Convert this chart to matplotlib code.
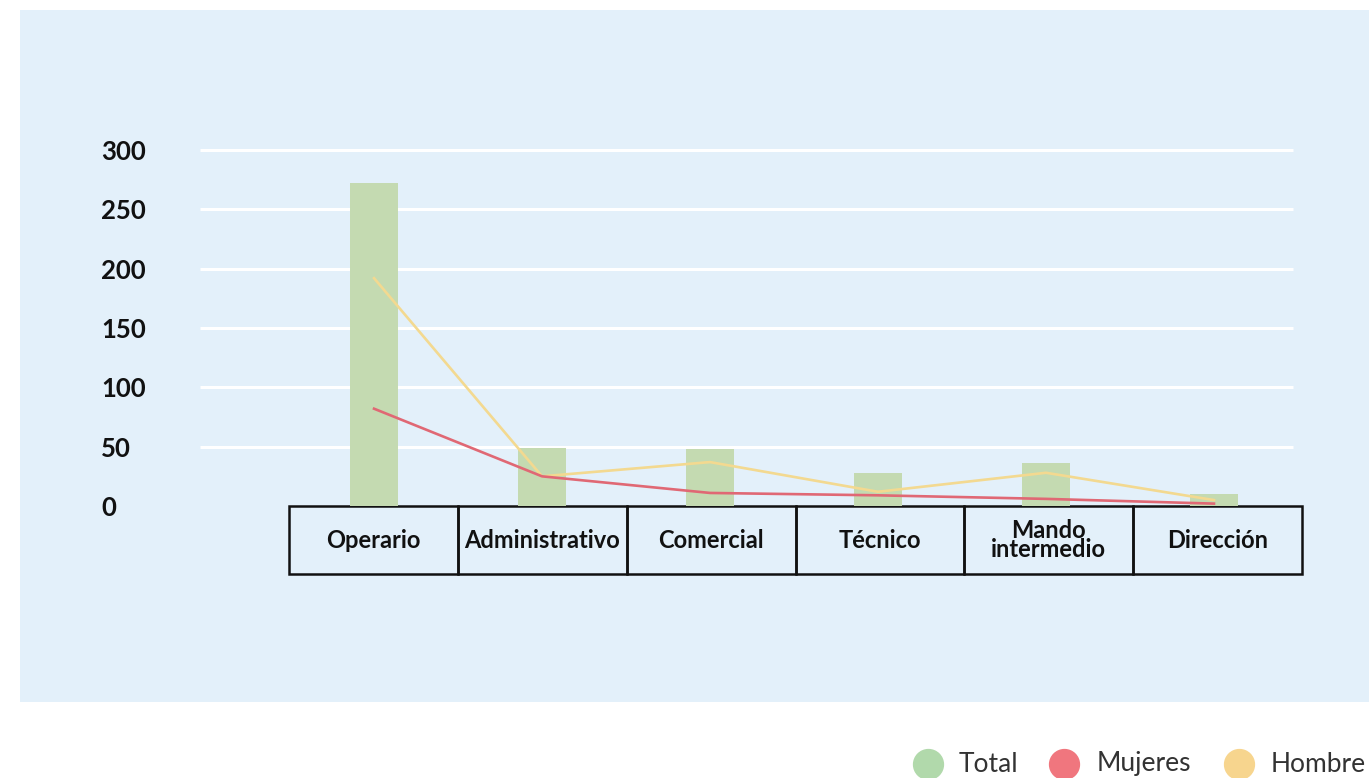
import matplotlib.pyplot as plt
from matplotlib.lines import Line2D
from matplotlib.patches import Rectangle
import numpy as np

# Datos
categorias = ["Operario", "Administrativo", "Comercial", "Técnico", "Mando\nintermedio", "Dirección"]
total = [272, 49, 48, 28, 36, 10]
mujeres = [82, 25, 11, 9, 6, 2]
hombres = [192, 25, 37, 12, 28, 5]
y_ticks = [0, 50, 100, 150, 200, 250, 300]

plt.rcParams['font.family'] = ['Lato', 'DejaVu Sans']

W, H = 1369, 778
fig = plt.figure(figsize=(W / 100, H / 100), dpi=100)

# Fondo azul claro
fig.add_artist(Rectangle((20 / W, 1 - 702 / H), 1349 / W, 692 / H,
                         transform=fig.transFigure, facecolor="#E3F0FA",
                         edgecolor="none", zorder=0))

ax = fig.add_axes([200 / W, 1 - 506 / H, 1102 / W, 356 / H])
ax.patch.set_alpha(0)
for s in ax.spines.values():
    s.set_visible(False)

x = np.arange(len(categorias))
ax.set_xlim(-1.036, 5.524)
ax.set_ylim(0, 300)

# Lineas de cuadricula
ax.hlines(y_ticks[1:], -1.036, 5.47, colors="white", linewidth=2.2, zorder=1, clip_on=False)

ax.bar(x, total, width=0.29, color="#C4DAB1", zorder=2)
ax.plot(x, hombres, color="#F3D990", linewidth=1.9, zorder=3)
ax.plot(x, mujeres, color="#E06874", linewidth=1.9, zorder=4)

ax.set_xticks([])
ax.set_yticks(y_ticks)
ax.set_yticklabels([str(v) for v in y_ticks], fontsize=18.5, fontweight="bold", color="#111111")
for lbl in ax.get_yticklabels():
    lbl.set_horizontalalignment("left")
ax.tick_params(axis="y", length=0, pad=71)

# Tabla de categorias
tabla = ax.table(cellText=[categorias], cellLoc="center",
                 bbox=[(289 - 200) / 1102, -68 / 356, 1013 / 1102, 68 / 356])
tabla.auto_set_font_size(False)
for (r, c), cell in tabla.get_celld().items():
    cell.set_facecolor("none")
    cell.set_edgecolor("#111111")
    cell.set_linewidth(1.8)
    t = cell.get_text()
    t.set_fontsize(17)
    t.set_fontweight("bold")
    t.set_color("#111111")
    t.set_linespacing(0.8)

# Leyenda
leyenda = [("Total", "#B1D9AB", 928, 959), ("Mujeres", "#F0767E", 1064, 1097),
           ("Hombre", "#F7D58E", 1239, 1271)]
for nombre, color, cx, tx in leyenda:
    fig.add_artist(Line2D([cx / W], [1 - 764 / H], marker="o", markersize=21.5,
                          color=color, linestyle="none", transform=fig.transFigure))
    fig.text(tx / W, 1 - 764 / H, nombre, fontsize=19, color="#333333",
             va="center", ha="left")

fig.savefig("out.png", dpi=100)
